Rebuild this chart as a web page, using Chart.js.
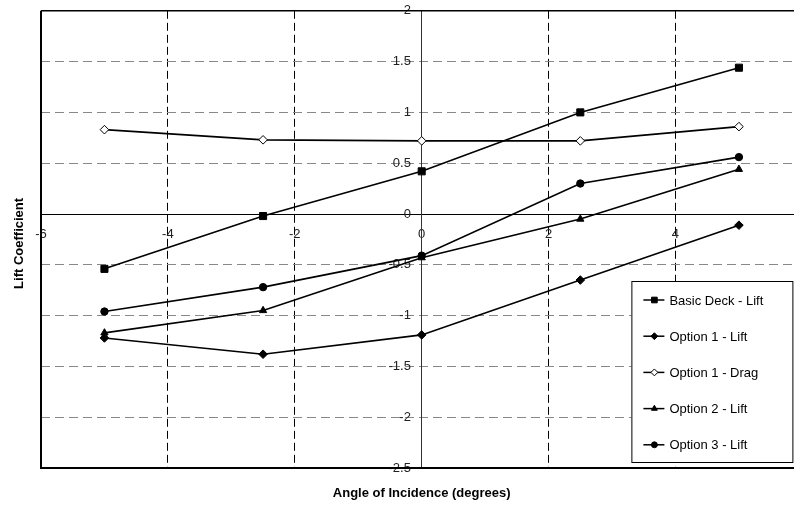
<!DOCTYPE html>
<html>
<head>
<meta charset="utf-8">
<script src="https://cdn.jsdelivr.net/npm/chart.js@4"></script>
<style>
  html, body { margin: 0; padding: 0; background: #fff; overflow: hidden; }
  #wrap { width: 819px; height: 508px; }
</style>
</head>
<body>
<div id="wrap"><canvas id="chart" width="819" height="508"></canvas></div>
<script>
const angles = [-5, -2.5, 0, 2.5, 5];
const basicDeckLift = [-0.54, -0.02, 0.42, 1.0, 1.44];
const option1Lift = [-1.22, -1.38, -1.19, -0.65, -0.11];
const option1Drag = [0.83, 0.73, 0.72, 0.72, 0.86];
const option2Lift = [-1.17, -0.95, -0.43, -0.05, 0.44];
const option3Lift = [-0.96, -0.72, -0.41, 0.30, 0.56];

const seriesNames = ["Basic Deck - Lift", "Option 1 - Lift", "Option 1 - Drag", "Option 2 - Lift", "Option 3 - Lift"];
const xTitle = "Angle of Incidence (degrees)";
const yTitle = "Lift Coefficient";

const fontFamily = '"Liberation Sans", Arial, Helvetica, sans-serif';

let pairs = function(ys) {
  return angles.map((x, i) => ({x: x, y: ys[i]}));
}

let makeSeries = function(label, ys, style, radius, fill) {
  return {
    label: label,
    data: pairs(ys),
    borderColor: '#000',
    borderWidth: 1.6,
    pointStyle: style,
    pointRadius: radius,
    pointBackgroundColor: fill,
    pointBorderColor: '#000',
    pointBorderWidth: 1,
    tension: 0
  };
}

// frame, axis titles and the boxed legend
const extrasPlugin = {
  id: 'extras',
  afterDraw(chart) {
    const ctx = chart.ctx;
    const a = chart.chartArea;
    ctx.save();
    ctx.strokeStyle = '#000';
    ctx.lineWidth = 2;
    ctx.beginPath();
    ctx.moveTo(a.left, a.top);
    ctx.lineTo(a.left, a.bottom);
    ctx.lineTo(a.right, a.bottom);
    ctx.stroke();
    ctx.lineWidth = 1.5;
    ctx.beginPath();
    ctx.moveTo(a.left, a.top);
    ctx.lineTo(a.right, a.top);
    ctx.stroke();

    ctx.fillStyle = '#000';
    ctx.font = 'bold 13px ' + fontFamily;
    ctx.textAlign = 'center';
    ctx.textBaseline = 'middle';
    ctx.fillText(xTitle, (a.left + a.right) / 2, a.bottom + 25);
    ctx.save();
    ctx.translate(19, (a.top + a.bottom) / 2 + 4);
    ctx.rotate(-Math.PI / 2);
    ctx.fillText(yTitle, 0, 0);
    ctx.restore();

    // legend box
    const bx = a.right - 171, by = a.bottom - 187, bw = 161, bh = 181;
    ctx.fillStyle = '#fff';
    ctx.fillRect(bx, by, bw, bh);
    ctx.lineWidth = 1;
    ctx.strokeStyle = '#000';
    ctx.strokeRect(bx + 0.5, by + 0.5, bw, bh);
    ctx.font = '13px ' + fontFamily;
    ctx.textAlign = 'left';
    chart.data.datasets.forEach((ds, i) => {
      const y = by + 19 + i * 36.2;
      ctx.strokeStyle = ds.borderColor;
      ctx.lineWidth = 1.5;
      ctx.beginPath();
      ctx.moveTo(bx + 12, y);
      ctx.lineTo(bx + 33, y);
      ctx.stroke();
      ctx.fillStyle = ds.pointBackgroundColor;
      ctx.strokeStyle = ds.pointBorderColor;
      ctx.lineWidth = 1;
      Chart.helpers.drawPoint(ctx, {pointStyle: ds.pointStyle, radius: ds.pointRadius * 0.8, rotation: 0, borderWidth: 1}, bx + 23, y);
      ctx.fillStyle = '#000';
      ctx.fillText(ds.label, bx + 38, y + 1);
    });
    ctx.restore();
  }
};

const config = {
  type: 'line',
  data: {
    datasets: [
      makeSeries(seriesNames[0], basicDeckLift, 'rect', 5, '#000'),
      makeSeries(seriesNames[1], option1Lift, 'rectRot', 4.3, '#000'),
      makeSeries(seriesNames[2], option1Drag, 'rectRot', 4.3, '#fff'),
      makeSeries(seriesNames[3], option2Lift, 'triangle', 4.2, '#000'),
      makeSeries(seriesNames[4], option3Lift, 'circle', 3.7, '#000')
    ]
  },
  options: {
    responsive: false,
    animation: false,
    layout: { padding: { left: 41, top: 5, right: 8, bottom: 40 } },
    plugins: { legend: { display: false }, tooltip: { enabled: false } },
    scales: {
      x: {
        type: 'linear',
        min: -6,
        max: 6,
        position: { y: 0 },
        ticks: { stepSize: 2, autoSkip: false, maxRotation: 0, padding: 13, color: '#222', font: { size: 13, family: fontFamily },
                 callback: (v) => String(v) },
        grid: { color: '#000', lineWidth: 1, drawTicks: false },
        border: { display: true, color: '#000', width: 1, dash: [8, 4] }
      },
      y: {
        type: 'linear',
        min: -2.5,
        max: 2,
        position: { x: 0 },
        ticks: { stepSize: 0.5, autoSkip: false, color: '#222', font: { size: 13, family: fontFamily },
                 callback: (v) => String(v) + '   ' },
        grid: { color: '#888', lineWidth: 1, drawTicks: false },
        border: { display: true, color: '#333', width: 1, dash: [9, 5] }
      }
    }
  },
  plugins: [extrasPlugin]
};

new Chart(document.getElementById('chart'), config);
</script>
</body>
</html>
